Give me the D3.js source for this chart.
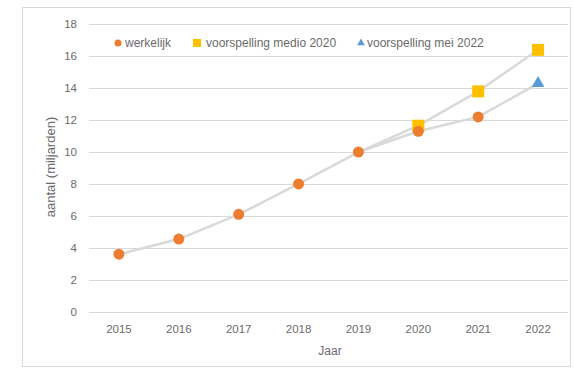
<!DOCTYPE html>
<html>
<head>
<meta charset="utf-8">
<script src="https://cdn.jsdelivr.net/npm/d3@7"></script>
<style>
  html, body { margin: 0; padding: 0; background: #fff; }
  svg { display: block; font-family: "Liberation Sans", Arial, sans-serif; }
</style>
</head>
<body>
<svg id="chart" width="574" height="368"></svg>
<script>
// Years on the x axis
const years = ["2015", "2016", "2017", "2018", "2019", "2020", "2021", "2022"];
// Actual figures (billions)
const werkelijk = [3.6, 4.55, 6.1, 8.0, 10.0, 11.3, 12.2, null];
// Forecast made mid 2020
const voorspellingMedio2020 = [null, null, null, null, null, 11.65, 13.8, 16.4];
// Forecast made May 2022
const voorspellingMei2022 = [null, null, null, null, null, null, null, 14.3];
// Y tick values
const yTicks = [0, 2, 4, 6, 8, 10, 12, 14, 16, 18];

const svg = d3.select("#chart");
const textColor = "#6b6b6b";

// outer chart frame
svg.append("rect")
  .attr("x", 22.5).attr("y", 7.5)
  .attr("width", 548).attr("height", 359)
  .attr("fill", "#fff").attr("stroke", "#d9d9d9").attr("stroke-width", 1);

const x = d3.scaleBand().domain(years).range([89, 568]);
const y = d3.scaleLinear().domain([0, 18]).range([311.7, 24.3]);
const cx = d => x(d) + x.bandwidth() / 2;

// gridlines
svg.append("g").selectAll("line").data(yTicks).join("line")
  .attr("x1", 89).attr("x2", 568)
  .attr("y1", d => Math.round(y(d)) + 0.5).attr("y2", d => Math.round(y(d)) + 0.5)
  .attr("stroke", "#d9d9d9").attr("stroke-width", 1);

// y axis labels
const yAxis = d3.axisLeft(y).tickValues(yTicks).tickSize(0).tickPadding(0);
const gy = svg.append("g").attr("transform", "translate(77,0)").call(yAxis);
gy.select(".domain").remove();
gy.selectAll("text").attr("fill", textColor).style("font-size", "11.5px")
  .style("font-family", "'Liberation Sans', Arial, sans-serif");

// x axis labels
const xAxis = d3.axisBottom(x).tickSize(0).tickPadding(0);
const gx = svg.append("g").attr("transform", "translate(0,325)").call(xAxis);
gx.select(".domain").remove();
gx.selectAll("text").attr("fill", textColor).style("font-size", "11.5px")
  .style("font-family", "'Liberation Sans', Arial, sans-serif");

// axis titles
svg.append("text").attr("x", 330).attr("y", 355)
  .attr("text-anchor", "middle").attr("fill", textColor).style("font-size", "12px").text("Jaar");
svg.append("text").attr("transform", "translate(55,167) rotate(-90)")
  .attr("text-anchor", "middle").attr("fill", textColor).style("font-size", "13px").text("aantal (miljarden)");

// connecting lines
const line = d3.line().defined(d => d[1] != null).x(d => cx(d[0])).y(d => y(d[1]));
const pairs = arr => years.map((yr, i) => [yr, arr[i]]);
const actualPts = pairs(werkelijk);
// each forecast line continues from the last actual value before it
const lineMedio = pairs(werkelijk.map((v, i) => voorspellingMedio2020[i] != null ? voorspellingMedio2020[i] : (i === 4 ? v : null)));
const lineMei = pairs(werkelijk.map((v, i) => voorspellingMei2022[i] != null ? voorspellingMei2022[i] : (i === 6 ? v : null)));

const lines = svg.append("g").attr("fill", "none").attr("stroke", "#d9d9d9")
  .attr("stroke-width", 2.5).attr("stroke-linejoin", "round").attr("stroke-linecap", "round");
[actualPts, lineMedio, lineMei].forEach(d => lines.append("path").attr("d", line(d)));

// markers
const orange = "#ED7D31", gold = "#FFC000", blue = "#5B9BD5";
svg.append("g").selectAll("rect").data(pairs(voorspellingMedio2020).filter(d => d[1] != null)).join("rect")
  .attr("x", d => cx(d[0]) - 6).attr("y", d => y(d[1]) - 6)
  .attr("width", 12).attr("height", 12).attr("fill", gold);
svg.append("g").selectAll("circle").data(actualPts.filter(d => d[1] != null)).join("circle")
  .attr("cx", d => cx(d[0])).attr("cy", d => y(d[1])).attr("r", 5.5).attr("fill", orange);
svg.append("g").selectAll("path").data(pairs(voorspellingMei2022).filter(d => d[1] != null)).join("path")
  .attr("transform", d => `translate(${cx(d[0])},${y(d[1])})`)
  .attr("d", d3.symbol(d3.symbolTriangle, 70)).attr("fill", blue);

// legend
const legend = svg.append("g").style("font-size", "12px").attr("fill", textColor);
const ly = 43;
legend.append("circle").attr("cx", 118).attr("cy", ly).attr("r", 3.5).attr("fill", orange);
legend.append("text").attr("x", 125).attr("y", ly + 4).text("werkelijk");
legend.append("rect").attr("x", 193).attr("y", ly - 4).attr("width", 8).attr("height", 8).attr("fill", gold);
legend.append("text").attr("x", 206).attr("y", ly + 4).text("voorspelling medio 2020");
legend.append("path").attr("transform", `translate(361,${ly})`).attr("d", d3.symbol(d3.symbolTriangle, 26)).attr("fill", blue);
legend.append("text").attr("x", 367).attr("y", ly + 4).text("voorspelling mei 2022");
</script>
</body>
</html>
